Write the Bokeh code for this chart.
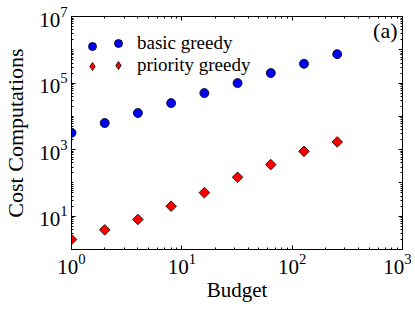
import math
from bokeh.plotting import figure
from bokeh.models import (LogAxis, FixedTicker, Range1d, Legend, LegendItem, Label,
                          LogTickFormatter, CustomJSTickFormatter)
from bokeh.embed import file_html
from bokeh.resources import INLINE

budget = [1, 2, 4, 8, 16, 32, 64, 128, 256]
basic_greedy = [3200, 6300, 12600, 25000, 50000, 100000, 200000, 380000, 740000]
priority_greedy = [2.0, 3.9, 8.0, 20, 51, 148, 355, 890, 1700]
series_names = ["basic greedy", "priority greedy"]

x_major = [1, 10, 100, 1000]
y_labeled = [1e1, 1e3, 1e5, 1e7]
y_all = [10.0 ** k for k in range(0, 8)]

def minors(decades):
    out = []
    for d in decades:
        for m in range(2, 10):
            out.append(m * d)
    return out

x_minor = minors([1, 10, 100])
y_minor = minors(y_all[:-1])

FONT = "Liberation Serif"

p = figure(frame_width=331, frame_height=233,
           x_axis_type="log", y_axis_type="log",
           x_range=Range1d(1, 1000), y_range=Range1d(1, 1e7),
           output_backend="svg", toolbar_location=None,
           min_border_left=67, min_border_top=16, min_border_right=9, min_border_bottom=56)
p.grid.visible = False
p.outline_line_color = "black"
p.outline_line_width = 1

xa = p.xaxis[0]
xa.ticker = FixedTicker(ticks=x_major, minor_ticks=x_minor)
xa.formatter = LogTickFormatter()
ya = p.yaxis[0]
ya.ticker = FixedTicker(ticks=y_labeled, minor_ticks=[v for v in y_all if v not in y_labeled] + y_minor)
ya.formatter = LogTickFormatter()

for ax in (xa, ya):
    ax.major_tick_in = 4
    ax.major_tick_out = 0
    ax.minor_tick_in = 2
    ax.minor_tick_out = 0
    ax.axis_line_color = "black"
    ax.major_label_text_font = FONT
    ax.major_label_text_font_size = "21px"
    ax.major_label_text_color = "black"
    ax.axis_label_text_font = FONT
    ax.axis_label_text_font_style = "normal"
    ax.axis_label_text_color = "black"

xa.axis_label = "Budget"
xa.axis_label_text_font_size = "21px"
xa.major_label_standoff = 4
xa.axis_label_standoff = 1
ya.axis_label = "Cost Computations"
ya.axis_label_text_font_size = "22px"
ya.major_label_standoff = 4
ya.axis_label_standoff = 8

blank = CustomJSTickFormatter(code="return ''")
top = LogAxis(ticker=FixedTicker(ticks=x_major, minor_ticks=x_minor), formatter=blank)
right = LogAxis(ticker=FixedTicker(ticks=y_all, minor_ticks=y_minor), formatter=blank)
for ax in (top, right):
    ax.major_tick_in = 4
    ax.major_tick_out = 0
    ax.minor_tick_in = 2
    ax.minor_tick_out = 0
    ax.major_label_standoff = 0
    ax.axis_line_color = "black"
p.add_layout(top, "above")
p.add_layout(right, "right")

r1 = p.scatter(budget, basic_greedy, marker="circle", size=9,
               fill_color="#0000f0", line_color="black", line_width=0.8)
r2 = p.scatter(budget, priority_greedy, marker="square", angle=math.pi / 4, size=7.5,
               fill_color="#ff0000", line_color="black", line_width=0.8)
# hidden copy drawn only as the legend key (diamond shape)
r2_key = p.scatter(budget, priority_greedy, marker="diamond", fill_color="#ff0000",
                   line_color="black", line_width=0.8, visible=False)

common = dict(margin=0, padding=0, glyph_width=20, glyph_height=20, spacing=0,
              label_text_font=FONT, label_text_font_size="19px", label_text_color="black",
              border_line_color=None, background_fill_alpha=0, click_policy="none")

# first column of keys (no labels)
legend_a = Legend(items=[LegendItem(label=" ", renderers=[r1]),
                         LegendItem(label=" ", renderers=[r2_key])],
                  location=(11, 173), label_standoff=0, **common)
# second column of keys with labels
legend_b = Legend(items=[LegendItem(label=series_names[0], renderers=[r1]),
                         LegendItem(label=series_names[1], renderers=[r2_key])],
                  location=(37, 173), label_standoff=9, **common)
p.add_layout(legend_a)
p.add_layout(legend_b)

p.add_layout(Label(x=326, y=219, x_units="screen", y_units="screen", text="(a)",
                   text_font=FONT, text_font_size="22px", text_align="right",
                   text_baseline="middle", text_color="black"))

open("out.html", "w").write(file_html(p, INLINE))
